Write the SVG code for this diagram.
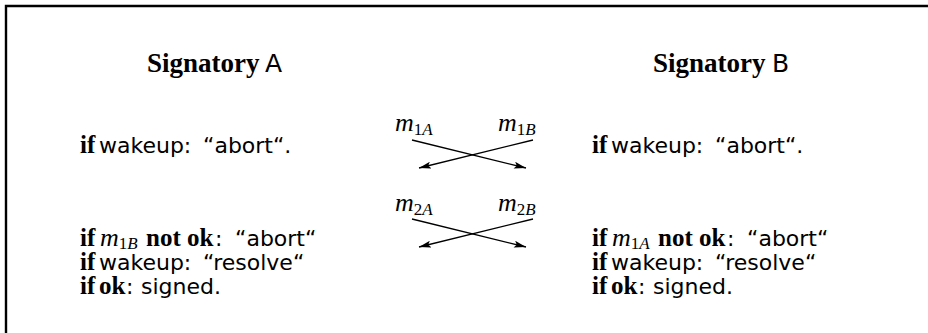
<svg xmlns="http://www.w3.org/2000/svg" width="928" height="333" viewBox="0 0 928 333">
<style>
text{fill:#000;}
.bf{font-family:"Liberation Serif","Times New Roman",serif;font-weight:bold;font-size:25px;}
.hd{font-family:"Liberation Serif","Times New Roman",serif;font-weight:bold;font-size:27px;}
.ss{font-family:"DejaVu Sans","Liberation Sans",sans-serif;font-size:22px;}
.hs{font-family:"DejaVu Sans","Liberation Sans",sans-serif;font-size:25px;}
.mi{font-family:"Liberation Serif","Times New Roman",serif;font-style:italic;font-size:26px;}
.sb{font-family:"Liberation Serif","Times New Roman",serif;font-size:17px;}
.si{font-style:italic;}
.conn line{stroke:#000;stroke-width:1.3;fill:none;}
</style>
<defs>
<marker id="ah" viewBox="0 0 12 7" refX="12" refY="3.5" markerWidth="12" markerHeight="7" markerUnits="userSpaceOnUse" orient="auto">
<path d="M0,0 L12,3.5 L0,7 L2.5,3.5 Z" fill="#000"/>
</marker>
</defs>
<rect width="928" height="333" fill="#fff"/>
<g id="frame">
<path d="M6,333 V6 H928" fill="none" stroke="#000" stroke-width="2.4"/>
</g>
<g id="signatoryA">
<text class="hd" x="147" y="72">Signatory</text><text class="hs" x="265" y="72">A</text>
<text class="bf" x="80" y="153">if</text><text class="ss" x="99" y="153">wakeup:</text><text class="ss" x="203" y="153">“abort“.</text>
<text class="bf" x="80" y="246">if</text><text x="100" y="246"><tspan class="mi">m</tspan><tspan class="sb" dy="3">1</tspan><tspan class="sb si">B</tspan></text><text class="bf" x="146" y="246">not ok</text><text class="ss" x="215" y="246">:</text><text class="ss" x="235" y="246">“abort“</text>
<text class="bf" x="80" y="270">if</text><text class="ss" x="99" y="270">wakeup:</text><text class="ss" x="203" y="270">“resolve“</text>
<text class="bf" x="80" y="294">if</text><text class="bf" x="99" y="294">ok</text><text class="ss" x="126" y="294">:</text><text class="ss" x="141" y="294">signed.</text>
</g>
<g id="signatoryB">
<text class="hd" x="653" y="72">Signatory</text><text class="hs" x="772" y="72">B</text>
<text class="bf" x="592" y="153">if</text><text class="ss" x="611" y="153">wakeup:</text><text class="ss" x="715" y="153">“abort“.</text>
<text class="bf" x="592" y="246">if</text><text x="612" y="246"><tspan class="mi">m</tspan><tspan class="sb" dy="3">1</tspan><tspan class="sb si">A</tspan></text><text class="bf" x="658" y="246">not ok</text><text class="ss" x="727" y="246">:</text><text class="ss" x="747" y="246">“abort“</text>
<text class="bf" x="592" y="270">if</text><text class="ss" x="611" y="270">wakeup:</text><text class="ss" x="715" y="270">“resolve“</text>
<text class="bf" x="592" y="294">if</text><text class="bf" x="611" y="294">ok</text><text class="ss" x="638" y="294">:</text><text class="ss" x="653" y="294">signed.</text>
</g>
<g id="labels">
<text x="395" y="131"><tspan class="mi">m</tspan><tspan class="sb" dy="4">1</tspan><tspan class="sb si">A</tspan></text>
<text x="498" y="131"><tspan class="mi">m</tspan><tspan class="sb" dy="4">1</tspan><tspan class="sb si">B</tspan></text>
<text x="395" y="211"><tspan class="mi">m</tspan><tspan class="sb" dy="4">2</tspan><tspan class="sb si">A</tspan></text>
<text x="498" y="211"><tspan class="mi">m</tspan><tspan class="sb" dy="4">2</tspan><tspan class="sb si">B</tspan></text>
</g>
<g id="connectors" class="conn">
<line x1="412" y1="140" x2="526" y2="168" marker-end="url(#ah)"/>
<line x1="533" y1="140" x2="419" y2="168" marker-end="url(#ah)"/>
<line x1="412" y1="219" x2="526" y2="247" marker-end="url(#ah)"/>
<line x1="533" y1="219" x2="419" y2="247" marker-end="url(#ah)"/>
</g>
</svg>
